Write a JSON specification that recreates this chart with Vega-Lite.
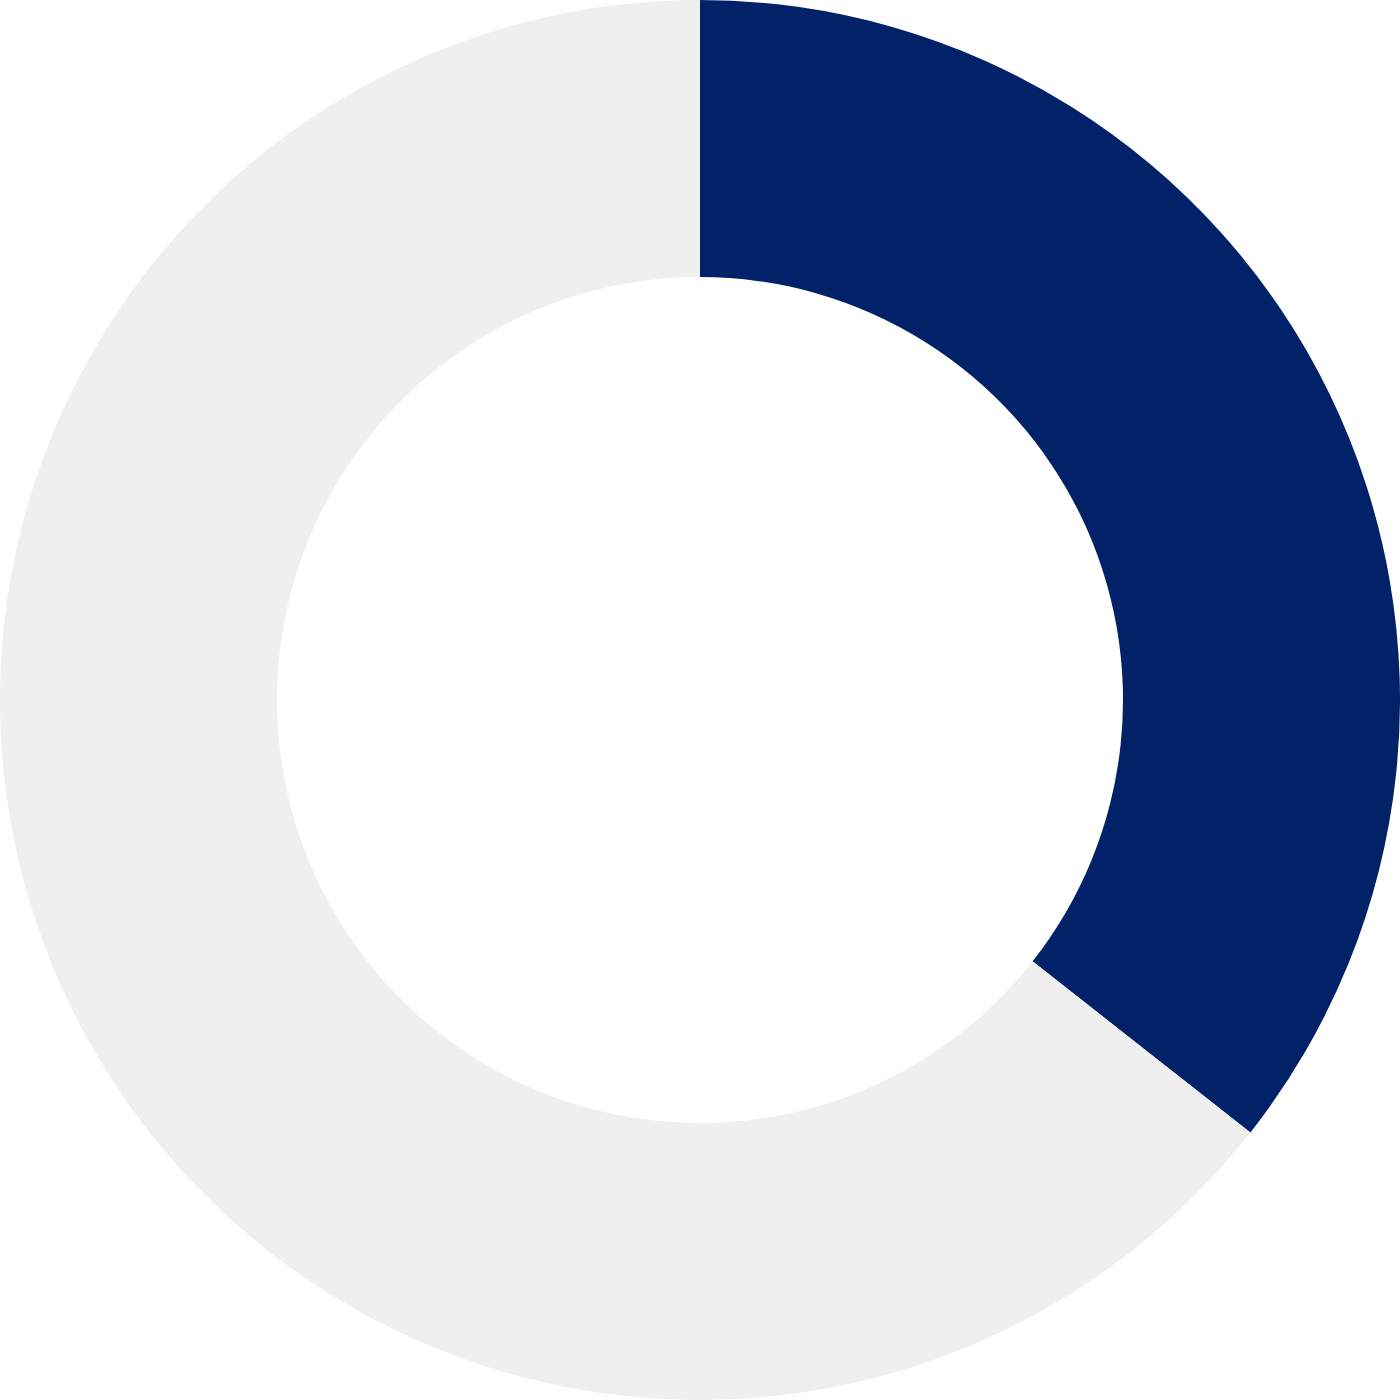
{
  "$schema": "https://vega.github.io/schema/vega-lite/v6.json",
  "width": 1400,
  "height": 1400,
  "autosize": {"type": "fit", "contains": "padding"},
  "padding": 0,
  "background": "white",
  "data": {
    "values": [
      {"part": "share", "value": 35.6, "rank": 1},
      {"part": "rest", "value": 64.4, "rank": 2}
    ]
  },
  "mark": {
    "type": "arc",
    "outerRadius": 700,
    "innerRadius": 423
  },
  "encoding": {
    "theta": {"field": "value", "type": "quantitative", "stack": true},
    "order": {"field": "rank", "type": "quantitative"},
    "color": {
      "field": "part",
      "type": "nominal",
      "scale": {"domain": ["share", "rest"], "range": ["#012169", "#efefef"]},
      "legend": null
    }
  },
  "config": {"view": {"stroke": null}}
}
